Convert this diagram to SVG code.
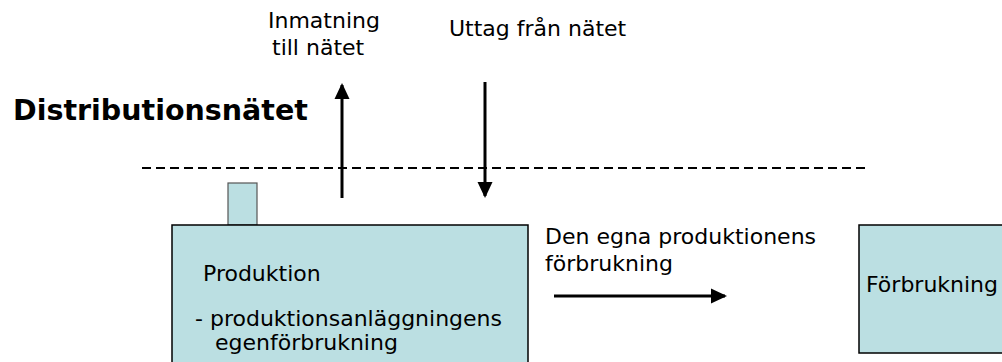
<svg xmlns="http://www.w3.org/2000/svg" width="1002" height="362" viewBox="0 0 1002 362">
  <style>
    .txt { font-family: "DejaVu Sans", Verdana, sans-serif; font-size: 22px; fill: #000; }
    .title { font-family: "DejaVu Sans", Verdana, sans-serif; font-size: 28.5px; font-weight: bold; fill: #000; }
    .box { fill: #BBDFE2; stroke: #000; stroke-width: 1.5; }
    .stub { fill: #BBDFE2; stroke: #555; stroke-width: 1.2; }
    .flow { stroke: #000; stroke-width: 3; fill: none; }
    .grid { stroke: #000; stroke-width: 2; stroke-dasharray: 9 5; fill: none; }
  </style>
  <defs>
    <marker id="head" viewBox="0 0 16 16" refX="14" refY="8" markerWidth="16" markerHeight="16" markerUnits="userSpaceOnUse" orient="auto">
      <path d="M0,0.5 L16,8 L0,15.5 Z" fill="#000"/>
    </marker>
  </defs>

  <!-- network boundary -->
  <g id="grid">
    <text class="title" x="13" y="120">Distributionsnätet</text>
    <line class="grid" x1="142" y1="168" x2="869" y2="168"/>
  </g>

  <!-- production unit with its stub -->
  <g id="production">
    <rect class="stub" x="228" y="183" width="29" height="42"/>
    <rect class="box" x="172" y="225" width="356" height="150"/>
    <text class="txt" x="203" y="281">Produktion</text>
    <text class="txt" x="195" y="326">- produktionsanläggningens</text>
    <text class="txt" x="215" y="350">egenförbrukning</text>
  </g>

  <!-- consumption -->
  <g id="consumption">
    <rect class="box" x="859" y="225" width="160" height="128"/>
    <text class="txt" x="866" y="292">Förbrukning</text>
  </g>

  <!-- flows -->
  <g id="connectors">
    <line class="flow" x1="342" y1="198" x2="342" y2="85" marker-end="url(#head)"/>
    <line class="flow" x1="485" y1="82" x2="485" y2="196" marker-end="url(#head)"/>
    <line class="flow" x1="554" y1="296" x2="725" y2="296" marker-end="url(#head)"/>
  </g>

  <!-- flow labels -->
  <g id="labels">
    <text class="txt" x="268" y="28">Inmatning</text>
    <text class="txt" x="272" y="55">till nätet</text>
    <text class="txt" x="449" y="36">Uttag från nätet</text>
    <text class="txt" x="545" y="244">Den egna produktionens</text>
    <text class="txt" x="545" y="271">förbrukning</text>
  </g>
</svg>
